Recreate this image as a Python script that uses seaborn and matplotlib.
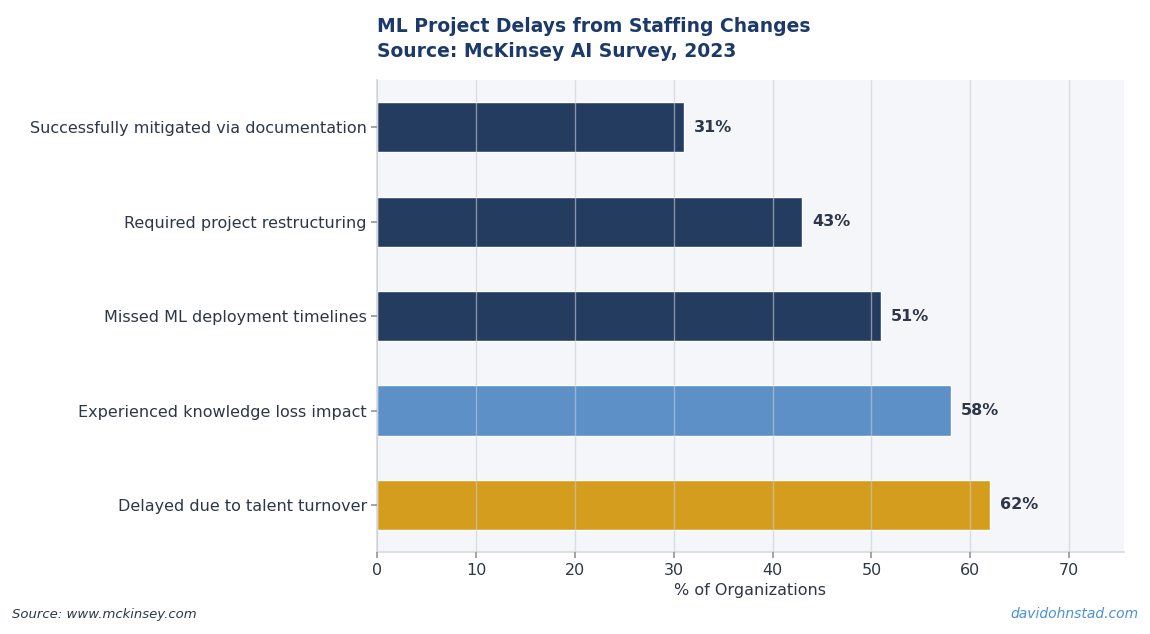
import matplotlib
matplotlib.use("Agg")
import matplotlib.pyplot as plt
import seaborn as sns
import pandas as pd

categories = ["Successfully mitigated via documentation", "Required project restructuring",
              "Missed ML deployment timelines", "Experienced knowledge loss impact",
              "Delayed due to talent turnover"]
values = [31, 43, 51, 58, 62]
colors = ["#1b3a6b", "#1b3a6b", "#1b3a6b", "#4a90d9", "#f2a900"]

sns.set_theme(style="white")
plt.rcParams['font.family'] = ['DejaVu Sans']
df = pd.DataFrame({"cat": categories, "val": values})

fig = plt.figure(figsize=(11.5, 6.34), dpi=100)
ax = fig.add_axes([0.328, 0.129, 0.649, 0.745])
ax.set_facecolor("#f4f6fa")
sns.barplot(data=df, y="cat", x="val", hue="cat", palette=colors, legend=False,
            width=0.53, ax=ax, orient="h")
ax.set_xlim(0, 75.5)
ax.set_ylim(4.5, -0.5)
ax.set_xticks(range(0, 80, 10))
ax.grid(axis="x", color="#c8ccd4", alpha=0.6, linewidth=1)
ax.set_axisbelow(False)
for s in ["top", "right"]:
    ax.spines[s].set_visible(False)
for s in ["left", "bottom"]:
    ax.spines[s].set_color("#d8dbe0")
ax.tick_params(axis="both", colors="#2d3748", labelsize=11.5, length=4, left=True, bottom=True)
ax.tick_params(axis="both", color="#999999")
ax.set_ylabel("")
ax.set_xlabel("% of Organizations", fontsize=11.5, color="#2d3748")
for i, v in enumerate(values):
    ax.text(v + 1.0, i, f"{v}%", va="center", ha="left", fontsize=11.5,
            fontweight="bold", color="#2d3748")

fig.text(0.328, 0.95, "ML Project Delays from Staffing Changes", fontsize=13.5,
         fontweight="bold", color="#1b3a6b", ha="left", va="baseline")
fig.text(0.328, 0.91, "Source: McKinsey AI Survey, 2023", fontsize=13.5,
         fontweight="bold", color="#1b3a6b", ha="left", va="baseline")
fig.text(0.01, 0.025, "Source: www.mckinsey.com", fontsize=9.5, style="italic",
         color="#2d3748", ha="left")
fig.text(0.99, 0.025, "davidohnstad.com", fontsize=10, style="italic",
         color="#4a90d9", ha="right")
fig.savefig("out.png", dpi=100)
